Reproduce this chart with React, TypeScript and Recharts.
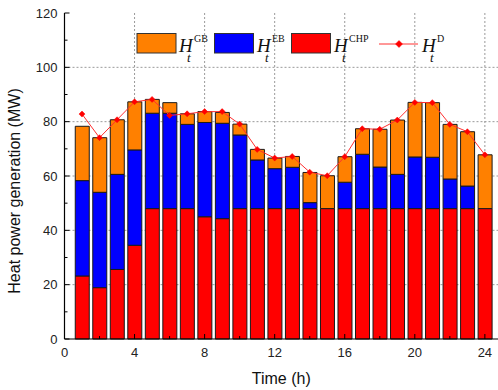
import React from 'react';
import { ComposedChart, Bar, Line, XAxis, YAxis, CartesianGrid } from 'recharts';

const hours = [1, 2, 3, 4, 5, 6, 7, 8, 9, 10, 11, 12, 13, 14, 15, 16, 17, 18, 19, 20, 21, 22, 23, 24];
const chp = [23.2, 18.9, 25.6, 34.5, 48, 48, 48, 45.0, 44.3, 48, 48, 48, 48, 48, 48, 48, 48, 48, 48, 48, 48, 48, 48, 48];
const eb = [35.1, 35.1, 35.0, 35.1, 35.1, 35.1, 31.0, 34.7, 35.1, 27.1, 17.9, 14.7, 15.2, 2.2, 0, 9.7, 20.0, 15.3, 12.6, 19.0, 18.9, 10.9, 8.3, 0];
const gb = [20, 20.1, 20.1, 17.7, 5.1, 3.9, 3.9, 4.0, 4.0, 4.0, 3.9, 3.9, 4.0, 11.1, 12.1, 9.4, 9.4, 13.9, 20.0, 20.1, 20.1, 20.1, 20.0, 19.8];
const demand = [82.8, 74.1, 80.7, 87.3, 88.2, 82.3, 82.9, 83.7, 83.7, 79.1, 69.8, 66.6, 67.2, 61.4, 60.1, 67.1, 77.4, 77.2, 80.6, 87.1, 87.0, 79.0, 76.3, 67.8];

const xTicks = [0, 2, 4, 6, 8, 10, 12, 14, 16, 18, 20, 22, 24];
const xMajor = [0, 4, 8, 12, 16, 20, 24];
const yTicks = [0, 10, 20, 30, 40, 50, 60, 70, 80, 90, 100, 110, 120];
const yMajor = [0, 20, 40, 60, 80, 100, 120];

const data = hours.map((t, i) => ({ t, chp: chp[i], eb: eb[i], gb: gb[i], d: demand[i] }));

const SANS = '"Liberation Sans", Arial, sans-serif';
const SERIF = '"Liberation Serif", "Times New Roman", serif';

const BottomTick = (props: any) => {
  const { x, y, payload } = props;
  const major = xMajor.includes(payload.value);
  return (
    <g>
      <line x1={x} x2={x} y1={y} y2={y - (major ? 5 : 3)} stroke="#000" strokeWidth={1} />
      {major && (
        <text x={x} y={y + 18} textAnchor="middle" fontFamily={SANS} fontSize={13} fill="#222">
          {payload.value}
        </text>
      )}
    </g>
  );
};

const TopTick = (props: any) => {
  const { x, y, payload } = props;
  const major = xMajor.includes(payload.value);
  return <line x1={x} x2={x} y1={y} y2={y + (major ? 5 : 3)} stroke="#000" strokeWidth={1} />;
};

const LeftTick = (props: any) => {
  const { x, y, payload } = props;
  const major = yMajor.includes(payload.value);
  return (
    <g>
      <line x1={x} x2={x + (major ? 5 : 3)} y1={y} y2={y} stroke="#000" strokeWidth={1} />
      {major && (
        <text x={x - 7} y={y + 4.5} textAnchor="end" fontFamily={SANS} fontSize={13} fill="#222">
          {payload.value}
        </text>
      )}
    </g>
  );
};

const Diamond = (props: any) => {
  const { cx, cy, r } = props;
  if (cx == null || cy == null) return <g />;
  const s = r ?? 3.5;
  return <polygon points={`${cx},${cy - s} ${cx + s},${cy} ${cx},${cy + s} ${cx - s},${cy}`} fill="#ff0000" stroke="#ff0000" strokeWidth={0.5} />;
};

const LegendLabel = ({ x, sup }: { x: number; sup: string }) => (
  <text fontFamily={SERIF} fill="#111">
    <tspan x={x} y={51.5} fontStyle="italic" fontSize={19}>H</tspan>
    <tspan x={x + 8} y={62} fontStyle="italic" fontSize={13}>t</tspan>
    <tspan x={x + 15} y={42} fontSize={10}>{sup}</tspan>
  </text>
);

export default function App() {
  return (
    <div style={{ position: 'absolute', left: 0, top: 0, width: 498, height: 390, background: '#fff' }}>
      <ComposedChart width={498} height={390} data={data} margin={{ top: 13, right: 0, left: 0, bottom: 0 }}>
        <CartesianGrid
          stroke="#9a9a9a"
          strokeDasharray="2 2"
          verticalValues={[4, 8, 12, 16, 20, 24]}
          horizontalValues={[20, 40, 60, 80, 100]}
        />
        <XAxis
          dataKey="t"
          type="number"
          domain={[0, 24.75]}
          ticks={xTicks}
          interval={0}
          allowDataOverflow
          height={51}
          tickSize={0}
          tickMargin={0}
          tickLine={false}
          tick={<BottomTick />}
          axisLine={{ stroke: '#000', strokeWidth: 1.2 }}
          label={{ value: 'Time (h)', position: 'insideBottom', offset: 6, fontFamily: SANS, fontSize: 16, fill: '#111' }}
        />
        <XAxis
          xAxisId="top"
          orientation="top"
          type="number"
          domain={[0, 24.75]}
          ticks={xTicks}
          interval={0}
          allowDataOverflow
          height={0}
          tickSize={0}
          tickMargin={0}
          tickLine={false}
          tick={<TopTick />}
          axisLine={{ stroke: '#000', strokeWidth: 1.2 }}
        />
        <YAxis
          type="number"
          domain={[0, 120]}
          ticks={yTicks}
          interval={0}
          width={64.5}
          tickSize={0}
          tickMargin={0}
          tickLine={false}
          tick={<LeftTick />}
          axisLine={{ stroke: '#000', strokeWidth: 1.2 }}
          label={{ value: 'Heat power generation (MW)', angle: -90, position: 'insideLeft', offset: 14, dy: 15, fontFamily: SANS, fontSize: 16, fill: '#111', style: { textAnchor: 'middle' } }}
        />
        <Bar dataKey="chp" stackId="a" fill="#ff0000" stroke="#1a1a1a" strokeWidth={1} barSize={14} isAnimationActive={false} />
        <Bar dataKey="eb" stackId="a" fill="#0000ff" stroke="#1a1a1a" strokeWidth={1} barSize={14} isAnimationActive={false} />
        <Bar dataKey="gb" stackId="a" fill="#ff8000" stroke="#1a1a1a" strokeWidth={1} barSize={14} isAnimationActive={false} />
        <Line dataKey="d" type="linear" stroke="#ff3030" strokeWidth={1} dot={<Diamond />} activeDot={false} isAnimationActive={false} />
      </ComposedChart>
      <svg width={498} height={390} style={{ position: 'absolute', left: 0, top: 0, pointerEvents: 'none' }}>
        <rect x={137} y={33.5} width={39} height={19.5} fill="#ff8000" stroke="#333" strokeWidth={1} />
        <LegendLabel x={179} sup="GB" />
        <rect x={214.5} y={33.5} width={39} height={19.5} fill="#0000ff" stroke="#333" strokeWidth={1} />
        <LegendLabel x={257} sup="EB" />
        <rect x={291.5} y={33.5} width={39} height={19.5} fill="#ff0000" stroke="#333" strokeWidth={1} />
        <LegendLabel x={334} sup="CHP" />
        <line x1={379} x2={418} y1={44} y2={44} stroke="#ff3030" strokeWidth={1} />
        <Diamond cx={399} cy={44} r={3.5} />
        <LegendLabel x={422} sup="D" />
      </svg>
    </div>
  );
}
